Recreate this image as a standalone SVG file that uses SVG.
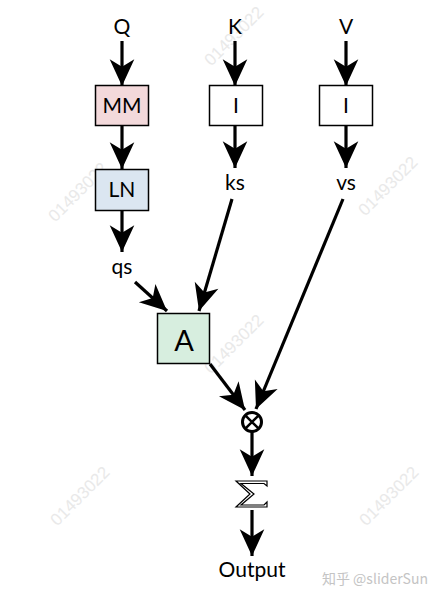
<svg xmlns="http://www.w3.org/2000/svg" width="437" height="598" viewBox="0 0 437 598">
<defs>
<marker id="ah" markerUnits="userSpaceOnUse" markerWidth="30" markerHeight="30" viewBox="-26 -13 28 26" refX="0" refY="0" orient="auto">
<path d="M0,0 L-25,-11.5 L-18,0 L-25,11.5 Z" fill="#000"/>
</marker>
</defs>
<style>
.lbl{font-family:Lato,"Open Sans","DejaVu Sans",sans-serif;font-size:21px;fill:#000;text-anchor:middle}
.box{stroke:#000;stroke-width:1.5}
.ln{stroke:#000;stroke-width:3.2;fill:none;marker-end:url(#ah)}
.wm{font-family:"Liberation Sans",sans-serif;font-size:17px;fill:#e9e9e9;text-anchor:middle}
</style>
<rect width="437" height="598" fill="#fff"/>
<g id="watermarks">
<text class="wm" transform="translate(238,40) rotate(-45)">01493022</text>
<text class="wm" transform="translate(82,196) rotate(-45)">01493022</text>
<text class="wm" transform="translate(392,190) rotate(-45)">01493022</text>
<text class="wm" transform="translate(238,348) rotate(-45)">01493022</text>
<text class="wm" transform="translate(84,500) rotate(-45)">01493022</text>
<text class="wm" transform="translate(393,500) rotate(-45)">01493022</text>
</g>
<g id="connectors">
<line class="ln" x1="122" y1="41" x2="122" y2="86"/>
<line class="ln" x1="235" y1="41" x2="235" y2="86"/>
<line class="ln" x1="346" y1="41" x2="346" y2="86"/>
<line class="ln" x1="122" y1="126" x2="122" y2="169"/>
<line class="ln" x1="235" y1="126" x2="235" y2="168"/>
<line class="ln" x1="346" y1="126" x2="346" y2="168"/>
<line class="ln" x1="122" y1="211" x2="122" y2="252"/>
<line class="ln" x1="135" y1="282" x2="167" y2="311"/>
<line class="ln" x1="232" y1="199" x2="199" y2="311"/>
<line class="ln" x1="343" y1="199" x2="256" y2="409"/>
<line class="ln" x1="210" y1="364" x2="245" y2="410"/>
<line class="ln" x1="252" y1="432" x2="252" y2="476"/>
<line class="ln" x1="252" y1="510" x2="252" y2="556"/>
</g>
<g id="Q"><text class="lbl" x="122" y="34">Q</text></g>
<g id="K"><text class="lbl" x="235" y="34">K</text></g>
<g id="V"><text class="lbl" x="346" y="34">V</text></g>
<g id="MM"><rect class="box" x="95.5" y="85.5" width="53" height="40" fill="#f3d9db"/><text class="lbl" x="122" y="113">MM</text></g>
<g id="I1"><rect class="box" x="209.5" y="85.5" width="53" height="40" fill="#fff"/><text class="lbl" x="236" y="113">I</text></g>
<g id="I2"><rect class="box" x="319.5" y="85.5" width="53" height="40" fill="#fff"/><text class="lbl" x="346" y="113">I</text></g>
<g id="LN"><rect class="box" x="95.5" y="169.5" width="53" height="41" fill="#dbe6f1"/><text class="lbl" x="122" y="197">LN</text></g>
<g id="ks"><text class="lbl" x="235" y="190">ks</text></g>
<g id="vs"><text class="lbl" x="346" y="190">vs</text></g>
<g id="qs"><text class="lbl" x="122" y="274">qs</text></g>
<g id="A"><rect class="box" x="157.5" y="313.5" width="52" height="50" fill="#d7eedf"/><text class="lbl" x="184" y="351" style="font-size:29px">A</text></g>
<g id="mult"><circle cx="252" cy="422" r="9.5" fill="#fff" stroke="#000" stroke-width="3"/><path d="M245.3,415.3 L258.7,428.7 M258.7,415.3 L245.3,428.7" stroke="#000" stroke-width="2.5"/></g>
<g id="sum"><path d="M236,481 L267,481 L267,486 L264,483.5 L241,483.5 L254,494 L241,505 L264,505 L267,502 L267,507 L236,507 L250,494 Z" fill="#fff" stroke="#000" stroke-width="1.2"/></g>
<g id="Output"><text class="lbl" x="252" y="577">Output</text></g>
<text x="375" y="584" style="font-family:'Noto Sans CJK SC','Liberation Sans',sans-serif;font-size:14px;fill:#c4c4c4;text-anchor:middle">知乎 @sliderSun</text>
</svg>
